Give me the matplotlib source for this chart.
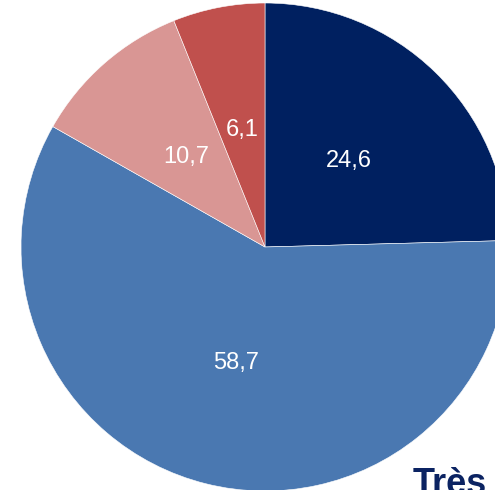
import matplotlib
matplotlib.use("Agg")
import matplotlib.pyplot as plt

labels = ["24,6", "58,7", "10,7", "6,1"]
values = [24.6, 58.7, 10.7, 6.1]
colors = ["#002060", "#4a78b1", "#d99694", "#c0504d"]

W, H = 495, 490
fig = plt.figure(figsize=(W / 100, H / 100), dpi=100)
ax = fig.add_axes([0, 0, 1, 1])

cx, cy, r = 265, 243, 244
wedges, texts = ax.pie(
    values, colors=colors, startangle=90, counterclock=False,
    center=(cx, cy), radius=r, labels=labels, labeldistance=0.49,
    wedgeprops=dict(edgecolor="white", linewidth=0.4),
    textprops=dict(color="white", fontsize=17, family="Liberation Sans"),
    frame=True,
)
for t in texts:
    t.set_ha("center")
    t.set_va("center")

ax.set_xlim(0, W)
ax.set_ylim(0, H)
ax.set_aspect("equal")
ax.axis("off")

ax.text(413, -4, "Très", fontsize=26, fontweight="bold", color="#0b2362",
        family="Liberation Sans", ha="left", va="baseline")

fig.savefig("out.png", dpi=100)
